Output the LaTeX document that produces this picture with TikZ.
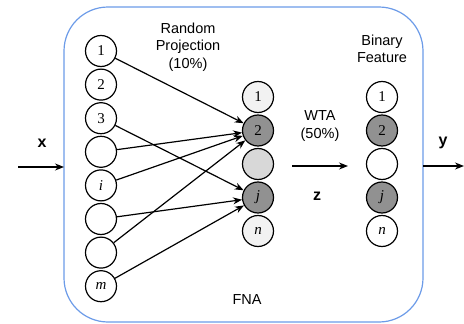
\documentclass[tikz,border=0pt]{standalone}
\usepackage{fontspec}
\setmainfont{Liberation Serif}
\setsansfont{Liberation Sans}
\usetikzlibrary{arrows.meta}
\definecolor{fnablue}{RGB}{108,155,232}
\definecolor{darkcell}{RGB}{145,145,145}
\definecolor{midcell}{RGB}{216,216,216}
\definecolor{palecell}{RGB}{242,242,242}
\tikzset{
  neuron/.style={circle, draw=black, line width=1.2pt, minimum size=31pt, inner sep=0pt, font=\fontsize{15}{15}\selectfont},
  lbl/.style={font=\sffamily\fontsize{14.5}{17.5}\selectfont, align=center},
  vec/.style={font=\sffamily\bfseries\fontsize{16}{16}\selectfont},
  conn/.style={-{Stealth[length=9pt,width=7pt]}, line width=1.2pt},
}
\begin{document}
\begin{tikzpicture}[x=1pt,y=-1pt]
\useasboundingbox (0,0) rectangle (464,324);
% enclosing module
\draw[fnablue, line width=1.2pt, rounded corners=44pt] (64,7) rectangle (423,322);
\node[lbl] (fna) at (247,300) {FNA};
% input layer
\foreach \k/\t in {1/1,2/2,3/3,4/{},5/\textit{i},6/{},7/{},8/\textit{m}}
  \node[neuron] (a\k) at (101,{51+33.6*(\k-1)}) {\t};
% projected layer
\node[neuron, fill=palecell] (b1) at (258,97) {1};
\node[neuron, fill=darkcell] (b2) at (258,130.5) {2};
\node[neuron, fill=midcell] (b3) at (258,164) {};
\node[neuron, fill=darkcell] (b4) at (258,197.5) {\textit{j}};
\node[neuron, fill=palecell] (b5) at (258,231) {\textit{n}};
% binary feature layer
\node[neuron] (c1) at (382,97) {1};
\node[neuron, fill=darkcell] (c2) at (382,130.5) {2};
\node[neuron] (c3) at (382,164) {};
\node[neuron, fill=darkcell] (c4) at (382,197.5) {\textit{j}};
\node[neuron] (c5) at (382,231) {\textit{n}};
% random projection
\foreach \k in {1,4,5,7} \draw[conn] (a\k) -- (b2);
\foreach \k in {3,6,8} \draw[conn] (a\k) -- (b4);
% labels
\node[lbl] (rp) at (188,47) {Random\\Projection\\(10\%)};
\node[lbl] (bf) at (382,49) {Binary\\Feature};
\node[lbl] (wta) at (320,126) {WTA\\(50\%)};
% WTA arrow
\coordinate (w0) at (292,166);
\coordinate (w1) at (348,166);
\draw[conn] (w0) -- (w1);
\node[vec] (z) at (317,196) {z};
% input / output
\coordinate (xin) at (18,167);
\coordinate (xbox) at (64,167);
\draw[conn] (xin) -- (xbox);
\node[vec] (x) at (42,143) {x};
\coordinate (ybox) at (423,166);
\coordinate (yout) at (464,166);
\draw[conn] (ybox) -- (yout);
\node[vec] (y) at (443,143) {y};
\end{tikzpicture}
\end{document}
